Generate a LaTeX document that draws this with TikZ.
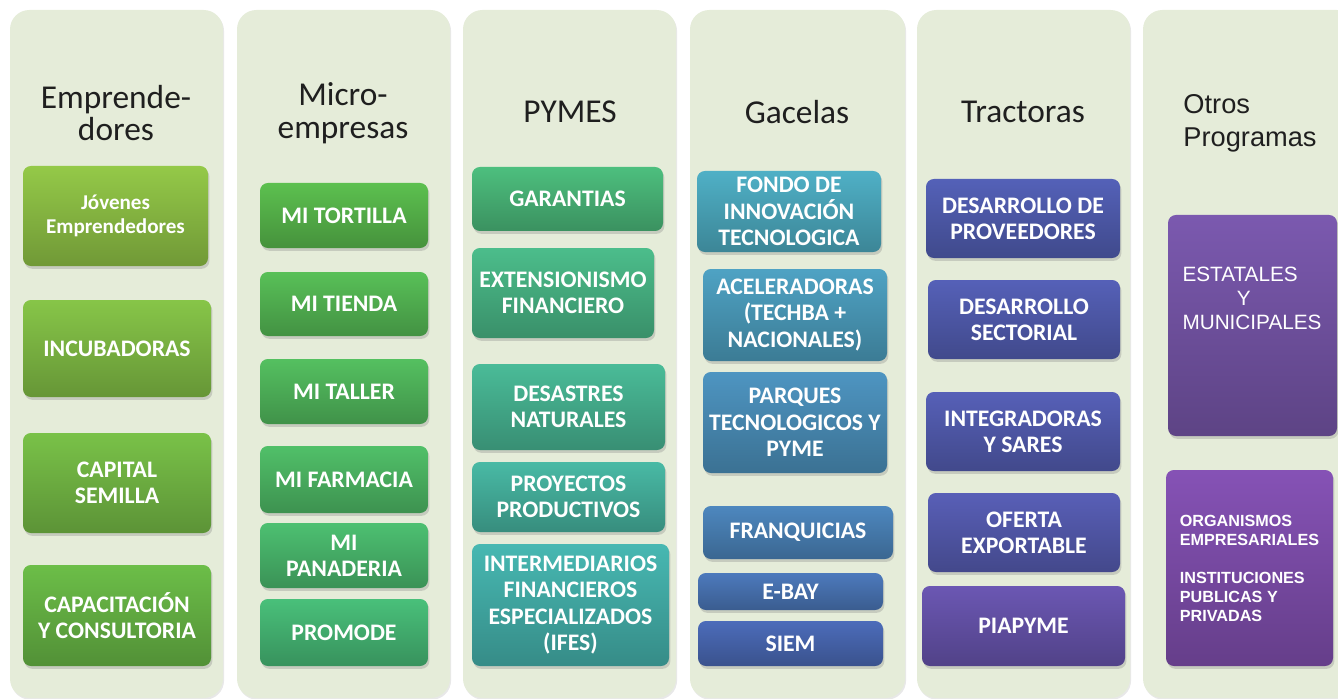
\documentclass[tikz,border=0pt]{standalone}
\usepackage{fontspec}
\setmainfont{Carlito}
\newfontfamily\arialfont{Liberation Sans}
\usetikzlibrary{positioning, shadows}

\definecolor{panelbg}{HTML}{E5ECD9}
\definecolor{oneA}{HTML}{94C948}
\definecolor{oneB}{HTML}{6CBE48}
\definecolor{twoA}{HTML}{5CC04F}
\definecolor{twoB}{HTML}{49C07A}
\definecolor{threeA}{HTML}{4DBF7E}
\definecolor{threeB}{HTML}{47B8B2}
\definecolor{fourA}{HTML}{4FB0C6}
\definecolor{fourB}{HTML}{4C6CBA}
\definecolor{fiveA}{HTML}{5461B8}
\definecolor{fiveB}{HTML}{6B57B3}
\definecolor{sixA}{HTML}{7B59AF}

\tikzset{
  panel/.style={rounded corners=11pt, fill=panelbg, draw=none,
    drop shadow={opacity=0.18, shadow xshift=0.6pt, shadow yshift=-1pt}},
  head/.style={font=\fontsize{19}{18.7}\selectfont, align=center, text=black!88},
  prog/.style={rounded corners=4.5pt, text=white, align=center, inner sep=2pt,
    font=\bfseries\fontsize{13.5}{15}\selectfont,
    drop shadow={opacity=0.3, shadow xshift=0.8pt, shadow yshift=-1.6pt}},
  sz/.style 2 args={minimum width=#1*0.02cm, minimum height=#2*0.02cm},
  tint/.style={top color=#1, bottom color=#1!76!black}
}

\begin{document}
\begin{tikzpicture}[x=0.02cm, y=-0.02cm]
\useasboundingbox (0,0) rectangle (1338,699);

% Panels
\node[panel, sz={213}{688}] (pEmp) at (116.5,354) {};
\node[panel, sz={213}{688}] (pMicro) at (343.5,354) {};
\node[panel, sz={213}{688}] (pPymes) at (569.5,354) {};
\node[panel, sz={215}{688}] (pGac) at (797.5,354) {};
\node[panel, sz={213}{688}] (pTrac) at (1023.5,354) {};
\node[panel, sz={213}{688}] (pOtros) at (1249.5,354) {};

% Headers
\node[head] (hdEmp) at (116,113) {Emprende-\\dores};
\node[head] (hdMicro) at (343,113) {Micro-\\empresas};
\node[head] (hdPymes) at (570,112) {PYMES};
\node[head] (hdGac) at (797,112) {Gacelas};
\node[head] (hdTrac) at (1023,112) {Tractoras};
\node[head, font=\arialfont\fontsize{15.5}{18.7}\selectfont, align=left] (hdOtros) at (1250,123) {Otros\\Programas};

% Emprendedores
\node[prog, sz={185}{100}, tint={oneA}, font=\bfseries\fontsize{12}{14}\selectfont] (jovenes) at (115.5,216) {Jóvenes\\Emprendedores};
\node[prog, sz={188}{97}, tint={oneA!67!oneB}] (incub) at (117,348.5) {INCUBADORAS};
\node[prog, sz={188}{100}, tint={oneA!33!oneB}] (capital) at (117,483) {CAPITAL\\SEMILLA};
\node[prog, sz={188}{101}, tint={oneB}] (capac) at (117,615.5) {CAPACITACIÓN\\Y CONSULTORIA};

% Microempresas
\node[prog, sz={168}{65}, tint={twoA}] (tortilla) at (344,215.5) {MI TORTILLA};
\node[prog, sz={168}{64}, tint={twoA!80!twoB}] (tienda) at (344,304) {MI TIENDA};
\node[prog, sz={168}{65}, tint={twoA!60!twoB}] (taller) at (344,391.5) {MI TALLER};
\node[prog, sz={168}{67}, tint={twoA!40!twoB}] (farmacia) at (344,479.5) {MI FARMACIA};
\node[prog, sz={168}{65}, tint={twoA!20!twoB}] (panaderia) at (344,555.5) {MI\\PANADERIA};
\node[prog, sz={168}{67}, tint={twoB}] (promode) at (344,632.5) {PROMODE};

% PYMES
\node[prog, sz={191}{64}, tint={threeA}] (garantias) at (567.5,199) {GARANTIAS};
\node[prog, sz={182}{90}, tint={threeA!75!threeB}] (extension) at (563,293) {EXTENSIONISMO\\FINANCIERO};
\node[prog, sz={193}{86}, tint={threeA!50!threeB}] (desastres) at (568.5,407) {DESASTRES\\NATURALES};
\node[prog, sz={193}{70}, tint={threeA!25!threeB}] (proyectos) at (568.5,497) {PROYECTOS\\PRODUCTIVOS};
\node[prog, sz={197}{122}, tint={threeB}] (intermed) at (570.5,605) {INTERMEDIARIOS\\FINANCIEROS\\ESPECIALIZADOS\\(IFES)};

% Gacelas
\node[prog, sz={184}{81}, tint={fourA}] (fondo) at (789,211.5) {FONDO DE\\INNOVACIÓN\\TECNOLOGICA};
\node[prog, sz={184}{92}, tint={fourA!80!fourB}] (aceler) at (795,315) {ACELERADORAS\\(TECHBA +\\NACIONALES)};
\node[prog, sz={184}{101}, tint={fourA!60!fourB}] (parques) at (795,422.5) {PARQUES\\TECNOLOGICOS Y\\PYME};
\node[prog, sz={190}{53}, tint={fourA!40!fourB}] (franq) at (798,532.5) {FRANQUICIAS};
\node[prog, sz={185}{37}, tint={fourA!20!fourB}] (ebay) at (790.5,591.5) {E-BAY};
\node[prog, sz={185}{45}, tint={fourB}] (siem) at (790.5,643.5) {SIEM};

% Tractoras
\node[prog, sz={194}{79}, tint={fiveA}] (provee) at (1023,218.5) {DESARROLLO DE\\PROVEEDORES};
\node[prog, sz={192}{79}, tint={fiveA!95!fiveB}] (sector) at (1024,319.5) {DESARROLLO\\SECTORIAL};
\node[prog, sz={194}{79}, tint={fiveA!90!fiveB}] (integ) at (1023,431.5) {INTEGRADORAS\\Y SARES};
\node[prog, sz={192}{79}, tint={fiveA!80!fiveB}] (oferta) at (1024,532.5) {OFERTA\\EXPORTABLE};
\node[prog, sz={203}{80}, tint={fiveB}] (piapyme) at (1023.5,626) {PIAPYME};

% Otros programas
\node[prog, sz={169}{221}, tint={sixA}] (estatales) at (1252.5,325.5) {};
\node[font=\arialfont\fontsize{11.8}{13.6}\selectfont, text=white, align=left] (estText) at (1252,298) {ESTATALES\\\hspace*{31pt}Y\\MUNICIPALES};
\node[prog, sz={167}{196}, tint={sixA!92!magenta}, align=left,
  font=\arialfont\bfseries\fontsize{9.2}{10.8}\selectfont] (organismos) at (1249.5,568)
  {ORGANISMOS\\EMPRESARIALES\\[10.8pt]INSTITUCIONES\\PUBLICAS Y\\PRIVADAS};

\end{tikzpicture}
\end{document}
